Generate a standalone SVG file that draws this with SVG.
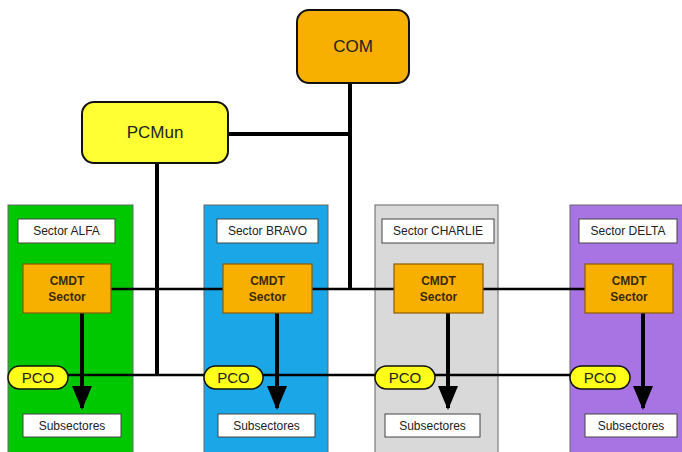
<svg xmlns="http://www.w3.org/2000/svg" width="682" height="452" viewBox="0 0 682 452">
<defs>
<style>
text{font-family:"Liberation Sans",Arial,sans-serif;text-anchor:middle;fill:#222}
.panel{stroke:#666;stroke-width:1}
.lbl{fill:#fff;stroke:#444;stroke-width:1}
.lbl-t{font-size:12px}
.cmdt{fill:#f7b000;stroke:#8a5a00;stroke-width:1.2}
.cmdt-t{font-size:12px;font-weight:bold;fill:#3a2a00}
.pco{fill:#ffff1a;stroke:#111;stroke-width:1.5}
.pco-t{font-size:15px}
.big-t{font-size:17px}
.thin{stroke:#000;stroke-width:2.5;fill:none}
.thick{stroke:#000;stroke-width:4;fill:none}
</style>
<marker id="arr" markerWidth="6" markerHeight="5" refX="5.5" refY="2.5" orient="auto" markerUnits="strokeWidth">
<path d="M0,0 L6,2.5 L0,5 z" fill="#000"/>
</marker>
</defs>
<rect width="682" height="452" fill="#fff"/>
<g id="panels">
<rect id="panel-alfa" class="panel" x="8" y="205" width="125" height="250" fill="#00c800"/>
<rect id="panel-bravo" class="panel" x="204" y="205" width="124" height="250" fill="#1ba6e8"/>
<rect id="panel-charlie" class="panel" x="375" y="205" width="123" height="250" fill="#d9d9d9"/>
<rect id="panel-delta" class="panel" x="570" y="205" width="115" height="250" fill="#a874e4"/>
</g>
<g id="connectors">
<line class="thick" x1="350" y1="83" x2="350" y2="289"/>
<line class="thick" x1="228" y1="134" x2="350" y2="134"/>
<line class="thick" x1="157" y1="163" x2="157" y2="375"/>
<line class="thin" x1="111" y1="289" x2="585" y2="289"/>
<line class="thin" x1="68" y1="375" x2="570" y2="375"/>
<line class="thick" x1="82" y1="313" x2="82" y2="408" marker-end="url(#arr)"/>
<line class="thick" x1="277" y1="313" x2="277" y2="408" marker-end="url(#arr)"/>
<line class="thick" x1="448" y1="313" x2="448" y2="408" marker-end="url(#arr)"/>
<line class="thick" x1="643" y1="313" x2="643" y2="408" marker-end="url(#arr)"/>
</g>
<g id="com">
<rect x="297" y="10" width="112" height="73" rx="12" fill="#f7b000" stroke="#111" stroke-width="2"/>
<text class="big-t" x="353" y="52">COM</text>
</g>
<g id="pcmun">
<rect x="82" y="102" width="146" height="61" rx="12" fill="#ffff33" stroke="#111" stroke-width="2"/>
<text class="big-t" x="155" y="138">PCMun</text>
</g>
<g id="sector-alfa">
<rect class="lbl" x="18" y="219" width="97" height="24"/>
<text class="lbl-t" x="66.5" y="235">Sector ALFA</text>
<rect class="cmdt" x="23" y="264" width="88" height="49"/>
<text class="cmdt-t" x="67" y="285">CMDT</text>
<text class="cmdt-t" x="67" y="301">Sector</text>
<rect class="pco" x="8" y="366" width="60" height="23" rx="11.5"/>
<text class="pco-t" x="38" y="383">PCO</text>
<rect class="lbl" x="23" y="414" width="98" height="23"/>
<text class="lbl-t" x="72" y="430">Subsectores</text>
</g>
<g id="sector-bravo">
<rect class="lbl" x="217" y="219" width="101" height="24"/>
<text class="lbl-t" x="267.5" y="235">Sector BRAVO</text>
<rect class="cmdt" x="223" y="264" width="89" height="49"/>
<text class="cmdt-t" x="267.5" y="285">CMDT</text>
<text class="cmdt-t" x="267.5" y="301">Sector</text>
<rect class="pco" x="204" y="366" width="59" height="23" rx="11.5"/>
<text class="pco-t" x="233.5" y="383">PCO</text>
<rect class="lbl" x="218" y="414" width="97" height="23"/>
<text class="lbl-t" x="266.5" y="430">Subsectores</text>
</g>
<g id="sector-charlie">
<rect class="lbl" x="382" y="219" width="112" height="24"/>
<text class="lbl-t" x="438" y="235">Sector CHARLIE</text>
<rect class="cmdt" x="394" y="264" width="89" height="49"/>
<text class="cmdt-t" x="438.5" y="285">CMDT</text>
<text class="cmdt-t" x="438.5" y="301">Sector</text>
<rect class="pco" x="375" y="366" width="60" height="23" rx="11.5"/>
<text class="pco-t" x="405" y="383">PCO</text>
<rect class="lbl" x="385" y="414" width="95" height="23"/>
<text class="lbl-t" x="432.5" y="430">Subsectores</text>
</g>
<g id="sector-delta">
<rect class="lbl" x="579" y="219" width="98" height="24"/>
<text class="lbl-t" x="628" y="235">Sector DELTA</text>
<rect class="cmdt" x="585" y="264" width="88" height="49"/>
<text class="cmdt-t" x="629" y="285">CMDT</text>
<text class="cmdt-t" x="629" y="301">Sector</text>
<rect class="pco" x="570" y="366" width="60" height="23" rx="11.5"/>
<text class="pco-t" x="600" y="383">PCO</text>
<rect class="lbl" x="585" y="414" width="92" height="23"/>
<text class="lbl-t" x="631" y="430">Subsectores</text>
</g>
</svg>
